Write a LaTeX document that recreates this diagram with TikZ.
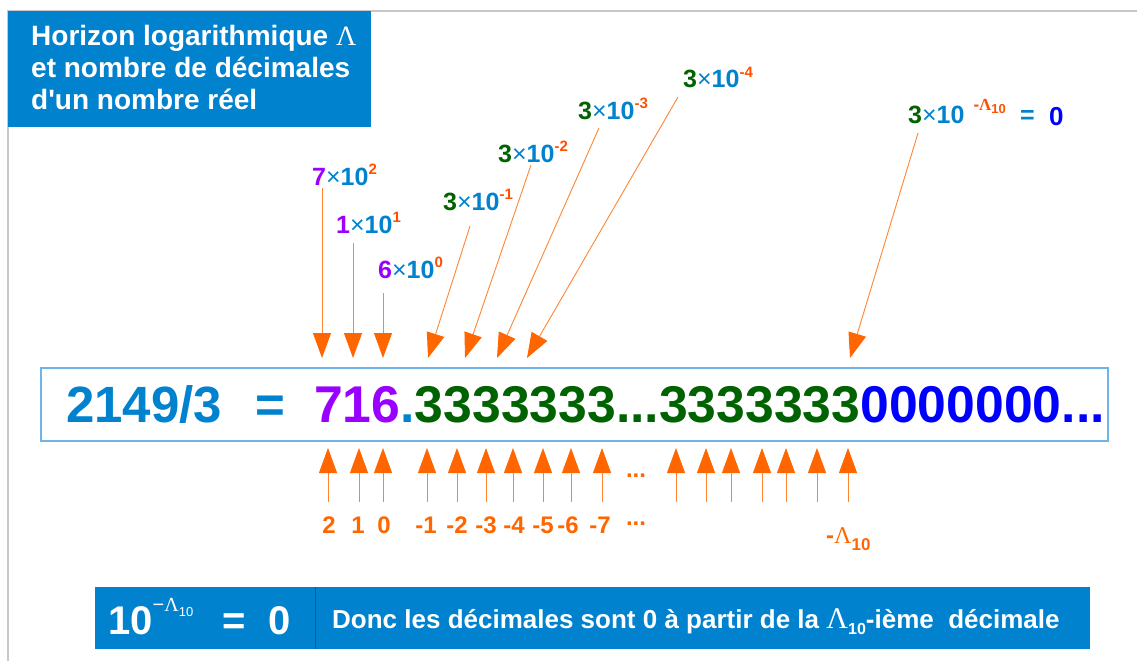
\documentclass[tikz,border=0pt]{standalone}
\usepackage{fontspec}
\setmainfont{Liberation Sans}
\newfontfamily\lamfont{Liberation Serif}
\usepackage{xcolor}
\usetikzlibrary{arrows.meta}

\definecolor{cblue}{RGB}{0,130,206}
\definecolor{cpurple}{RGB}{153,0,255}
\definecolor{cgreen}{RGB}{0,98,0}
\definecolor{czero}{RGB}{0,0,255}
\definecolor{corange}{RGB}{255,102,0}
\definecolor{cexp}{RGB}{255,80,0}
\definecolor{cframe}{RGB}{200,200,200}
\definecolor{cedge}{RGB}{110,180,230}

\newcommand{\fs}[1]{\fontsize{#1}{#1}\selectfont}
\newcommand{\lam}{{\lamfont\mdseries Λ}}
% digit x 10^power
\newcommand{\pten}[3]{{\color{#1}#2}{\color{cblue}\mdseries ×}{\color{cblue}10}\raisebox{0.42em}{\fs{15}\color{cexp}#3}}

\begin{document}
\begin{tikzpicture}[x=1pt,y=-1pt,
  arr/.style={draw=corange!80, line width=0.9pt, -{Triangle[width=18pt,length=25pt,color=corange]}},
  plab/.style={anchor=base west, inner sep=0, font=\fs{25}\bfseries},
  olab/.style={anchor=base, inner sep=0, font=\fs{24}\bfseries, text=corange}]

\useasboundingbox (0,0) rectangle (1137,661);
\draw[cframe, line width=1.2pt] (8,661) -- (8,11) -- (1137,11);

\node[fill=cblue, minimum width=363pt, minimum height=116pt, anchor=north west, inner sep=0] (titlebg) at (8,11) {};
\node[anchor=north west, align=left, inner sep=0, text=white, font=\fontsize{28}{32}\selectfont\bfseries] (title) at (31,25)
  {Horizon logarithmique \lam\\et nombre de décimales\\d\textquotesingle un nombre réel};

% the number
\node[draw=cedge, line width=1.5pt, fill=white, minimum width=1067pt, minimum height=73pt, anchor=north west, inner sep=0] (numbox) at (40,367) {};
\node[anchor=base west, inner sep=0, font=\fs{51}\bfseries, text=cblue] (frac) at (66,422) {2149/3};
\node[anchor=base west, inner sep=0, font=\fs{51}\bfseries, text=cblue] (eq) at (255,422) {=};
\node[anchor=base west, inner sep=0, font=\fs{51.7}\bfseries, text=cblue] (num) at (314,422)
  {{\color{cpurple}716}.{\color{cgreen}3333333...3333333}{\color{czero}0000000...}};

% powers above
\node[plab] (p2) at (312,185) {\pten{cpurple}{7}{2}};
\node[plab] (p1) at (336,233) {\pten{cpurple}{1}{1}};
\node[plab] (p0) at (378,278) {\pten{cpurple}{6}{0}};
\node[plab] (m1) at (443,210) {\pten{cgreen}{3}{-1}};
\node[plab] (m2) at (498,162) {\pten{cgreen}{3}{-2}};
\node[plab] (m3) at (578,119) {\pten{cgreen}{3}{-3}};
\node[plab] (m4) at (683,88) {\pten{cgreen}{3}{-4}};
\node[plab] (mL) at (908,123) {{\color{cgreen}3}{\color{cblue}\mdseries ×}{\color{cblue}10}\hspace{9pt}\raisebox{0.5em}{\fs{17}\color{cexp}-{\lamfont\bfseries Λ}\raisebox{-0.2em}{\fs{13}\bfseries 10}}};
\node[plab, text=cblue] (eqL) at (1020,123) {=};
\node[plab, text=czero, font=\fs{26}\bfseries] (zL) at (1049,125) {0};

\foreach \n/\dx/\dy/\tx in {p2/10/3/322, p1/17/10/353, p0/5/15/383, m1/27/16/428, m2/33/3/465, m3/21/9/497, m4/-5/9/527, mL/10/10/850}{
  \coordinate (t\n) at (\tx,358);
  \draw[arr] ([shift={(\dx,\dy)}]\n.base west) -- (t\n);
}

% positions below
\foreach \x [count=\i] in {328,359,383,427,457,486,513,543,571,602,676,706,731,762,786,817,848}{
  \coordinate (u\i) at (\x,502);
  \coordinate (v\i) at (\x,448);
  \draw[arr] (u\i) -- (v\i);
}
\foreach \x/\t [count=\i] in {329/2,358/1,384/0,426/-1,457/-2,486/-3,514/-4,543/-5,568/-6,600/-7}
  \node[olab] (l\i) at (\x,533) {\t};
\node[olab, anchor=center] (d1) at (636,476) {...};
\node[olab, anchor=center] (d2) at (636,524) {...};
\node[olab, anchor=base west] (lL) at (826,543) {-\lam\raisebox{-0.3em}{\fs{17}10}};

% conclusion
\node[fill=cblue, minimum width=995pt, minimum height=62pt, anchor=north west, inner sep=0] (resbox) at (95,587) {};
\draw[cblue!75!black, line width=0.6pt] ([xshift=220pt]resbox.north west) -- ([xshift=220pt]resbox.south west);
\node[anchor=base west, inner sep=0, text=white, font=\fs{40}\bfseries] (lim) at (108,634)
  {10\raisebox{0.57em}{\fs{20}\mdseries −\lam\raisebox{-0.25em}{\fs{13}10}}};
\node[anchor=base west, inner sep=0, text=white, font=\fs{40}\bfseries] (eqb) at (222,634) {=};
\node[anchor=base west, inner sep=0, text=white, font=\fs{40}\bfseries] (zb) at (268,634) {0};
\node[anchor=base west, inner sep=0, text=white, font=\fs{26}\bfseries] (donc) at (332,628)
  {Donc les décimales sont 0 à partir de la {\fs{30}\lam}\raisebox{-0.25em}{\fs{16}10}-ième\ \ décimale};

\end{tikzpicture}
\end{document}
